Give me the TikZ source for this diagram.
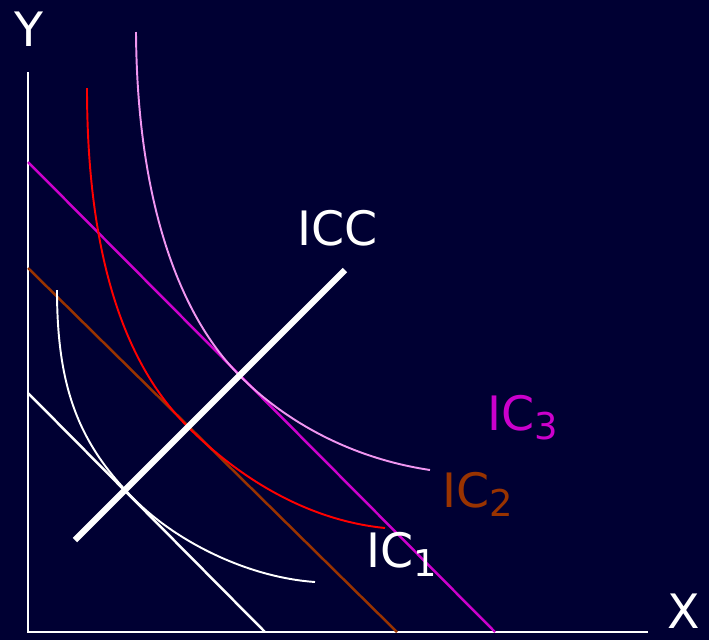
\documentclass[tikz,border=0pt]{standalone}
\usepackage{fontspec}
\setmainfont{DejaVu Sans}
\definecolor{bgnavy}{RGB}{0,0,51}
\definecolor{icmagenta}{RGB}{204,0,204}
\definecolor{icbrown}{RGB}{153,51,0}
\definecolor{icred}{RGB}{255,0,0}
\definecolor{icpink}{RGB}{240,150,240}
\newcommand{\icsub}[1]{\raisebox{-0.35ex}{\fontsize{21}{21}\selectfont #1}}

\begin{document}
\begin{tikzpicture}[x=0.02cm,y=-0.02cm]
\tikzset{
  axisline/.style={draw=white,line width=1.2pt},
  budget/.style={line width=1.4pt},
  iccline/.style={draw=white,line width=3.6pt},
  indiff/.style={line width=1.1pt},
  plotlabel/.style={inner sep=0pt,anchor=base west,font=\fontsize{27}{30}\selectfont}
}
\fill[bgnavy] (0,0) rectangle (709,640);
\useasboundingbox (0,0) rectangle (709,640);
% axes
\coordinate (o) at (28,632);
\coordinate (ytop) at (28,72);
\coordinate (xend) at (648,632);
\draw[axisline] (ytop) -- (o) -- (xend);
\node[plotlabel,text=white] (lab_y) at (14,46) {Y};
\node[plotlabel,text=white] (lab_x) at (667,628) {X};
% budget lines
\coordinate (b1_y) at (28,393);
\coordinate (b1_x) at (265,632);
\coordinate (b2_y) at (28,268);
\coordinate (b2_x) at (397,632);
\coordinate (b3_y) at (28,162);
\coordinate (b3_x) at (495,632);
\draw[budget,white] (b1_y) -- (b1_x);
\draw[budget,icbrown] (b2_y) -- (b2_x);
\draw[budget,icmagenta] (b3_y) -- (b3_x);
% indifference curves
\coordinate (ic1_s) at (57,290);
\coordinate (ic1_t) at (135,500);
\coordinate (ic1_e) at (315,582);
\coordinate (ic2_s) at (87,88);
\coordinate (ic2_t) at (187,426);
\coordinate (ic2_e) at (385,528);
\coordinate (ic3_s) at (136,32);
\coordinate (ic3_t) at (240,376);
\coordinate (ic3_e) at (430,470);
\draw[indiff,white] (ic1_s) .. controls (57,390) and (80,445) .. (ic1_t)
  .. controls (175,540) and (245,577) .. (ic1_e);
\draw[indiff,icred] (ic2_s) .. controls (87,238) and (117,356) .. (ic2_t)
  .. controls (237,476) and (305,520) .. (ic2_e);
\draw[indiff,icpink] (ic3_s) .. controls (137,192) and (175,311) .. (ic3_t)
  .. controls (285,421) and (350,458) .. (ic3_e);
% income consumption curve
\coordinate (icc_lo) at (75,540);
\coordinate (icc_hi) at (345,270);
\draw[iccline] (icc_lo) -- (icc_hi);
\node[plotlabel,text=white] (lab_icc) at (297,245) {ICC};
\node[plotlabel,text=white] (lab_ic1) at (366,567) {IC\icsub{1}};
\node[plotlabel,text=icbrown] (lab_ic2) at (442,507) {IC\icsub{2}};
\node[plotlabel,text=icmagenta] (lab_ic3) at (487,430) {IC\icsub{3}};
\end{tikzpicture}
\end{document}
